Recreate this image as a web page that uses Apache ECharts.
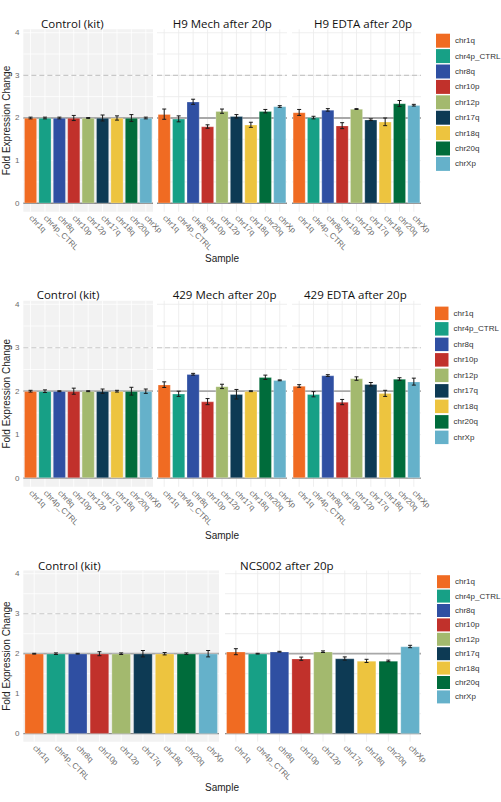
<!DOCTYPE html>
<html><head><meta charset="utf-8">
<script src="https://cdn.jsdelivr.net/npm/echarts@6/dist/echarts.min.js"></script>
<style>html,body{margin:0;padding:0;background:#fff}#c{width:501px;height:802px}</style>
</head><body><div id="c"></div><script>
// ---- data ----
const categories = ['chr1q','chr4p_CTRL','chr8q','chr10p','chr12p','chr17q','chr18q','chr20q','chrXp'];
const yTickLabels = [0,1,2,3,4];
const yGridValues = [0,0.5,1,1.5,2,2.5,3,3.5,4];
const refLineValues = [0,2,3];

const controlRow1 = [2.00,2.00,2.00,2.00,2.00,2.00,2.00,2.00,2.00];
const controlRow1Err = [0.02,0.02,0.02,0.06,0.01,0.07,0.05,0.08,0.02];
const h9Mech = [2.09,1.98,2.38,1.80,2.16,2.04,1.84,2.16,2.27];
const h9MechErr = [0.12,0.07,0.06,0.04,0.05,0.04,0.06,0.04,0.02];
const h9Edta = [2.13,2.01,2.19,1.82,2.21,1.96,1.91,2.34,2.30];
const h9EdtaErr = [0.07,0.03,0.03,0.07,0.01,0.02,0.09,0.07,0.02];

const controlRow2 = [2.00,2.00,2.00,2.00,2.00,2.00,2.00,2.00,2.00];
const controlRow2Err = [0.02,0.03,0.01,0.07,0.01,0.05,0.02,0.09,0.05];
const m429Mech = [2.15,1.94,2.39,1.76,2.11,1.93,2.00,2.32,2.25];
const m429MechErr = [0.065,0.06,0.02,0.07,0.05,0.11,0.01,0.05,0.01];
const m429Edta = [2.12,1.93,2.36,1.75,2.29,2.16,1.95,2.28,2.22];
const m429EdtaErr = [0.03,0.06,0.02,0.06,0.04,0.04,0.07,0.03,0.08];

const controlRow3 = [2.00,2.00,2.00,2.00,2.00,2.00,2.00,2.00,2.00];
const controlRow3Err = [0.01,0.02,0.01,0.05,0.02,0.08,0.03,0.02,0.08];
const ncs002 = [2.05,2.00,2.05,1.875,2.05,1.88,1.82,1.82,2.18];
const ncs002Err = [0.075,0.01,0.01,0.04,0.02,0.04,0.04,0.02,0.03];

const titlesRow1 = ['Control (kit)','H9 Mech after 20p','H9 EDTA after 20p'];
const titlesRow2 = ['Control (kit)','429 Mech after 20p','429 EDTA after 20p'];
const titlesRow3 = ['Control (kit)','NCS002 after 20p'];
const yAxisTitle = 'Fold Expression Change';
const xAxisTitle = 'Sample';

// ---- styling / layout ----
const palette = ['#F06B22','#17A086','#2F4FA2','#C1312B','#A3B96E','#0D3A54','#EDC43F','#006C3B','#65B1CA'];
const rows = [
  {top:29.3, height:182.5, titleY:23, sampleY:258, legend:{left:436, top:33.7, size:14, gap:1.4},
   panels:[
    {left:23,width:130,title:titlesRow1[0],titleX:41,vals:controlRow1,errs:controlRow1Err,control:true},
    {left:157,width:130,title:titlesRow1[1],titleX:172.7,vals:h9Mech,errs:h9MechErr},
    {left:292,width:129,title:titlesRow1[2],titleX:314,vals:h9Edta,errs:h9EdtaErr}]},
  {top:300.8, height:186, titleY:294, sampleY:535, legend:{left:435, top:306.6, size:13.5, gap:2},
   panels:[
    {left:23,width:130,title:titlesRow2[0],titleX:36.7,vals:controlRow2,errs:controlRow2Err,control:true},
    {left:157,width:130,title:titlesRow2[1],titleX:172.7,vals:m429Mech,errs:m429MechErr},
    {left:292,width:129,title:titlesRow2[2],titleX:304,vals:m429Edta,errs:m429EdtaErr}]},
  {top:570.5, height:171.2, titleY:565, sampleY:787, legend:{left:437, top:575.2, size:13, gap:1.4},
   panels:[
    {left:23,width:196,title:titlesRow3[0],titleX:38,vals:controlRow3,errs:controlRow3Err,control:true},
    {left:225,width:196,title:titlesRow3[1],titleX:240,vals:ncs002,errs:ncs002Err}]}
];
const FONT = 'Liberation Sans';
const refStyles = [
  {stroke:'#8c8c8c', lineWidth:1.3},
  {stroke:'#a8a8a8', lineWidth:1.8},
  {stroke:'#c8c8c8', lineWidth:1.1, lineDash:[5,3]}
];

const grid=[], xAxis=[], yAxis=[], series=[], graphic=[], legend=[];
let gi = 0;
rows.forEach((row, ri) => {
  row.panels.forEach((p, pi) => {
    grid.push({left:p.left, top:row.top, width:p.width, height:row.height, show:true,
      backgroundColor: p.control ? '#f2f2f2' : '#ffffff', borderWidth:0});
    xAxis.push({type:'category', data:categories, gridIndex:gi,
      axisLine:{show:false}, axisTick:{show:false}, splitLine:{show:false},
      axisLabel:{rotate:-45, fontSize:8, color:'#6b6b6b', fontFamily:FONT, margin:5, interval:0}});
    yAxis.push({type:'value', gridIndex:gi, min:-0.2, max:4.08,
      axisLine:{show:false}, axisTick:{show:false}, splitLine:{show:false},
      axisLabel:{show:pi===0, customValues:yTickLabels, fontSize:8, color:'#6b6b6b', fontFamily:FONT, margin:4},
      name: pi===0 ? yAxisTitle : '', nameLocation:'middle', nameGap:10,
      nameTextStyle:{fontSize:10, color:'#222', fontFamily:FONT}});
    const gcol = p.control ? '#ffffff' : '#ebebeb';
    // grid lines (horizontal)
    series.push({type:'custom', xAxisIndex:gi, yAxisIndex:gi, z:1, silent:true, clip:false,
      data: yGridValues.map(v => [0, v]),
      renderItem:(params, api) => {
        const cs = params.coordSys; const y = api.coord([0, api.value(1)])[1];
        return {type:'line', shape:{x1:cs.x, y1:y, x2:cs.x+cs.width, y2:y}, style:{stroke:gcol, lineWidth:0.8}};
      }});
    // grid lines (vertical)
    series.push({type:'custom', xAxisIndex:gi, yAxisIndex:gi, z:1, silent:true, clip:false,
      data: categories.map((c) => [c, 0]),
      renderItem:(params, api) => {
        const cs = params.coordSys; const x = api.coord([api.value(0), 0])[0];
        return {type:'line', shape:{x1:x, y1:cs.y, x2:x, y2:cs.y+cs.height}, style:{stroke:gcol, lineWidth:0.8}};
      }});
    // reference lines
    series.push({type:'custom', xAxisIndex:gi, yAxisIndex:gi, z:1.5, silent:true, clip:false,
      data: refLineValues.map(v => [0, v]),
      renderItem:(params, api) => {
        const cs = params.coordSys; const y = api.coord([0, api.value(1)])[1];
        return {type:'line', shape:{x1:cs.x, y1:y, x2:cs.x+cs.width, y2:y}, style:Object.assign({fill:null}, refStyles[params.dataIndex])};
      }});
    // bars
    series.push({type:'bar', xAxisIndex:gi, yAxisIndex:gi, z:2, barWidth:'88%',
      data: p.vals.map((v,i) => ({value:v, itemStyle:{color:palette[i]}})),
      itemStyle:{borderColor:'rgba(255,255,255,0.5)', borderWidth:0.5}});
    // error bars
    series.push({type:'custom', xAxisIndex:gi, yAxisIndex:gi, z:3, silent:true, clip:false,
      data: p.vals.map((v,i) => [i, v - p.errs[i], v + p.errs[i]]),
      renderItem:(params, api) => {
        const lo = api.coord([api.value(0), api.value(1)]);
        const hi = api.coord([api.value(0), api.value(2)]);
        const x = lo[0], w = 2;
        const st = {stroke:'#1a1a1a', lineWidth:1};
        return {type:'group', children:[
          {type:'line', shape:{x1:x, y1:lo[1], x2:x, y2:hi[1]}, style:st},
          {type:'line', shape:{x1:x-w, y1:lo[1], x2:x+w, y2:lo[1]}, style:st},
          {type:'line', shape:{x1:x-w, y1:hi[1], x2:x+w, y2:hi[1]}, style:st}]};
      }});
    graphic.push({type:'text', x:p.titleX, y:row.titleY, silent:true,
      style:{text:p.title, fontFamily:'Open Sans', fontWeight:'normal', fontSize:11.5, fill:'#111', textAlign:'left', textVerticalAlign:'middle'}});
    gi++;
  });
  graphic.push({type:'text', x:222, y:row.sampleY, silent:true,
    style:{text:xAxisTitle, fontFamily:FONT, fontSize:10, fill:'#222', textAlign:'center', textVerticalAlign:'middle'}});
  legend.push({orient:'vertical', left:row.legend.left, top:row.legend.top, padding:0,
    itemWidth:row.legend.size, itemHeight:row.legend.size, itemGap:row.legend.gap, icon:'rect',
    selectedMode:false, data:categories,
    textStyle:{fontSize:8, color:'#333', fontFamily:FONT}});
});
// hidden grid hosting legend-only series
grid.push({left:0, top:0, width:1, height:1, show:false});
xAxis.push({type:'category', data:categories, gridIndex:gi, show:false});
yAxis.push({type:'value', gridIndex:gi, show:false});
categories.forEach((c,i) => series.push({type:'bar', name:c, xAxisIndex:gi, yAxisIndex:gi, data:[], itemStyle:{color:palette[i]}}));

const chart = echarts.init(document.getElementById('c'), null, {renderer:'svg', width:501, height:802});
chart.setOption({animation:false, backgroundColor:'#ffffff', grid, xAxis, yAxis, series, legend, graphic});
</script></body></html>
